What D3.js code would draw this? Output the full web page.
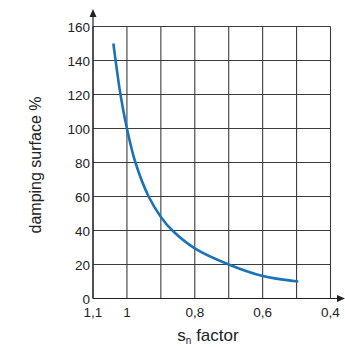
<!DOCTYPE html>
<html>
<head>
<meta charset="utf-8">
<script src="https://cdn.jsdelivr.net/npm/d3@7"></script>
<style>
   body { margin: 0; background: #fff; }
   svg text { font-family: "Liberation Sans", Arial, sans-serif; fill: #222; }
</style>
</head>
<body>
<figure style="margin:0"></figure>
<script>
// Values
const factor = [1.04, 1.03, 1.019, 1.0, 0.975, 0.936, 0.9, 0.866, 0.8, 0.7, 0.6, 0.55, 0.495];
const surface = [150, 135, 120, 100, 80, 60, 48, 40, 29.5, 20, 13.2, 11.4, 10];

const xGrid = [1.1, 1.0, 0.9, 0.8, 0.7, 0.6, 0.5, 0.4];
const xTickValues = [1.1, 1.0, 0.8, 0.6, 0.4];
const xTickLabels = ["1,1", "1", "0,8", "0,6", "0,4"];
const yTicks = [0, 20, 40, 60, 80, 100, 120, 140, 160];

const width = 345, height = 347;
const margin = {top: 26.5, right: 14.5, bottom: 48.5, left: 93};

let svg = d3.select("figure")
   .append("svg")
   .attr("width", width)
   .attr("height", height);

// x runs from 1.1 on the left down to 0.4 on the right
let x = d3.scaleLinear()
   .domain([1.1, 0.4])
   .range([margin.left, width - margin.right]);
let y = d3.scaleLinear()
   .domain([0, 160])
   .range([height - margin.bottom, margin.top]);

// Grid
svg.append("g")
   .selectAll("line")
   .data(xGrid)
   .enter()
   .append("line")
      .attr("x1", d => x(d)).attr("x2", d => x(d))
      .attr("y1", y(0)).attr("y2", y(160))
      .attr("stroke", "#3c3c3c")
      .attr("stroke-width", 1.1);
svg.append("g")
   .selectAll("line")
   .data(yTicks)
   .enter()
   .append("line")
      .attr("x1", x(1.1)).attr("x2", x(0.4))
      .attr("y1", d => y(d)).attr("y2", d => y(d))
      .attr("stroke", "#3c3c3c")
      .attr("stroke-width", 1.1);

// Axes with arrow heads
svg.append("line")
   .attr("x1", x(1.1)).attr("x2", x(1.1))
   .attr("y1", y(0)).attr("y2", 15)
   .attr("stroke", "#222").attr("stroke-width", 1.2);
svg.append("path")
   .attr("d", d3.line()([[x(1.1) - 3.5, 17], [x(1.1), 9], [x(1.1) + 3.5, 17]]) + "Z")
   .attr("fill", "#222");
svg.append("line")
   .attr("x1", x(1.1)).attr("x2", width - 6)
   .attr("y1", y(0)).attr("y2", y(0))
   .attr("stroke", "#222").attr("stroke-width", 1.2);
svg.append("path")
   .attr("d", d3.line()([[width - 8, y(0) - 3.5], [width, y(0)], [width - 8, y(0) + 3.5]]) + "Z")
   .attr("fill", "#222");

// Tick labels
svg.append("g")
   .selectAll("text")
   .data(yTicks)
   .enter()
   .append("text")
      .attr("x", x(1.1) - 3)
      .attr("y", d => y(d) + 5)
      .attr("text-anchor", "end")
      .style("font-size", "13.5px")
      .text(d => d);
svg.append("g")
   .selectAll("text")
   .data(xTickValues)
   .enter()
   .append("text")
      .attr("x", d => x(d))
      .attr("y", y(0) + 18.5)
      .attr("text-anchor", "middle")
      .style("font-size", "13.5px")
      .text((d, i) => xTickLabels[i]);

// Axis titles
svg.append("text")
   .attr("transform", "translate(41,165) rotate(-90)")
   .attr("text-anchor", "middle")
   .style("font-size", "16px")
   .text("damping surface %");
let xTitle = svg.append("text")
   .attr("x", 208)
   .attr("y", 341)
   .attr("text-anchor", "middle")
   .style("font-size", "17px");
xTitle.append("tspan").text("s");
xTitle.append("tspan").attr("dy", 3).style("font-size", "10px").text("n");
xTitle.append("tspan").attr("dy", -3).text(" factor");

// Curve
let line = d3.line()
   .x(d => x(d[0]))
   .y(d => y(d[1]))
   .curve(d3.curveCatmullRom.alpha(0.5));
svg.append("path")
   .datum(factor.map((f, i) => [f, surface[i]]))
   .attr("d", line)
   .attr("fill", "none")
   .attr("stroke", "#1a72b8")
   .attr("stroke-width", 2.6)
   .attr("stroke-linecap", "butt");
</script>
</body>
</html>
